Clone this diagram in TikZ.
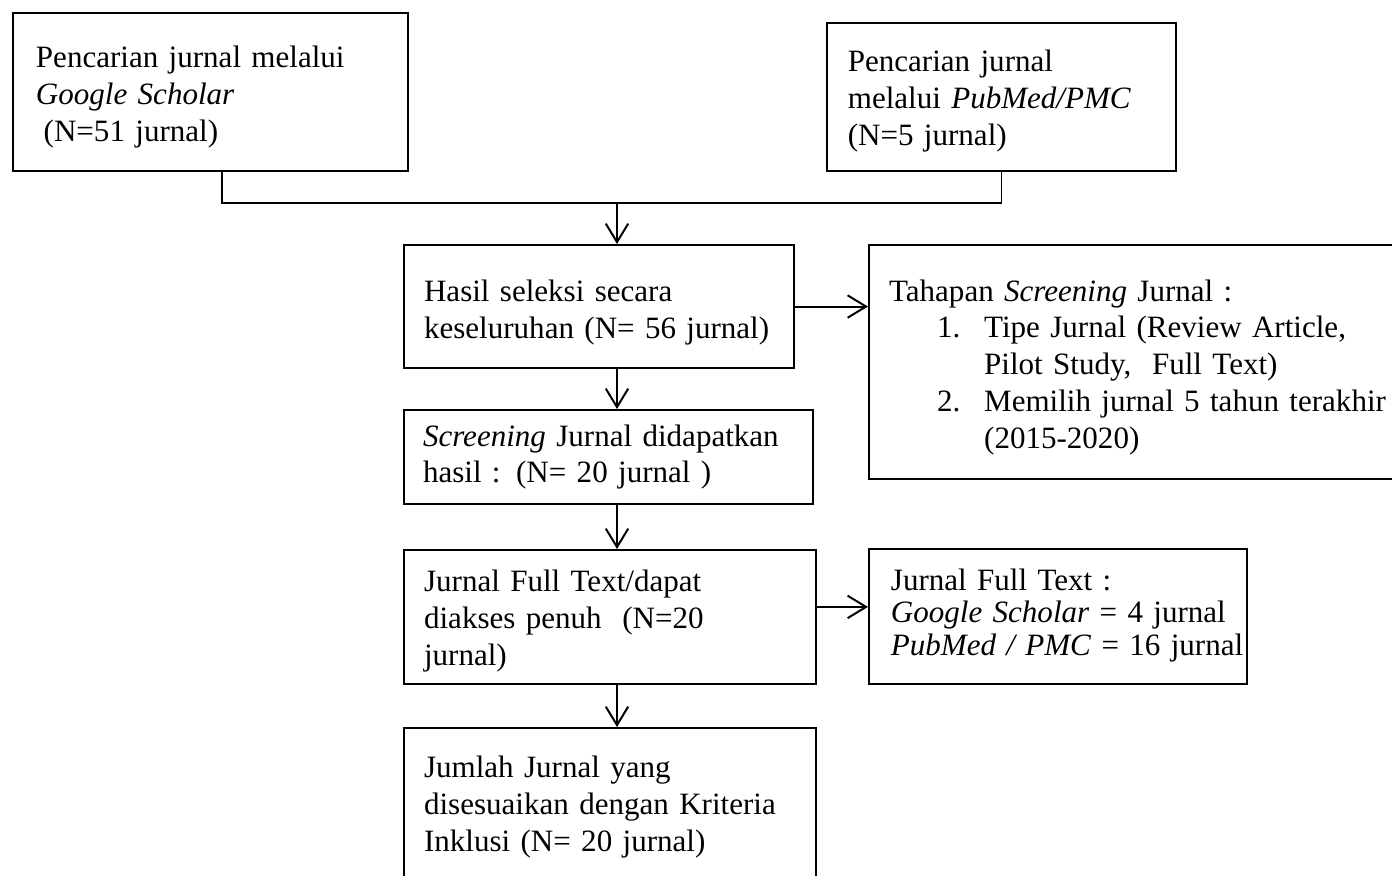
\documentclass[tikz,border=0pt]{standalone}
\usepackage{fontspec}
\setmainfont{Liberation Serif}
\usetikzlibrary{arrows.meta}
\newcommand\toppad[1]{\rule{0pt}{#1}}
\newcommand\botpad[1]{\rule[-#1]{0pt}{#1}}
\begin{document}
\begin{tikzpicture}[x=0.3785pt,y=-0.3785pt,
  line width=0.75pt,
  box/.style={draw, line width=0.75pt, rectangle, anchor=north west, align=left,
    inner ysep=0pt, font=\fontsize{11.75}{13.9}\selectfont},
  arr/.style={-{Straight Barb[length=7pt,width=8.5pt]}, line width=0.75pt}]
\useasboundingbox (0,0) rectangle (1392,876);
\clip (0,0) rectangle (1392,876);

\node[box, text width=132.1pt, inner xsep=8.7pt, minimum height=59.8pt] (gs) at (12,12)
  {\toppad{12pt}Pencarian jurnal melalui\\\textit{Google Scholar}\\\hspace*{0.25em}(N=51 jurnal)};
\node[box, text width=116.3pt, inner xsep=7.9pt, minimum height=56pt] (pm) at (826,22)
  {\toppad{11.2pt}Pencarian jurnal\\melalui \textit{PubMed/PMC}\\(N=5 jurnal)};
\node[box, text width=132.4pt, inner xsep=7.6pt, minimum height=46.6pt] (hasil) at (403,244)
  {\toppad{12.7pt}Hasil seleksi secara\\\mbox{keseluruhan (N= 56 jurnal)}};
\node[box, text width=201.3pt, inner xsep=7.6pt, minimum height=88.6pt] (tahap) at (868,244)
  {\toppad{12pt}Tahapan \textit{Screening} Jurnal :\\
   \hspace*{18.2pt}\makebox[17.8pt][l]{1.}Tipe Jurnal (Review Article,\\
   \hspace*{36pt}Pilot Study,\ \ Full Text)\\
   \hspace*{18.2pt}\makebox[17.8pt][l]{2.}\mbox{Memilih jurnal 5 tahun terakhir}\\
   \hspace*{36pt}(2015-2020)};
\node[box, text width=140.4pt, inner xsep=7.2pt, minimum height=35.6pt] (scr) at (403,409)
  {\mbox{\textit{Screening} Jurnal didapatkan}\\hasil : (N= 20 jurnal )};
\node[box, text width=140.7pt, inner xsep=7.6pt, minimum height=50.7pt] (full) at (403,549)
  {\toppad{11.2pt}Jurnal Full Text/dapat\\diakses penuh\ \ (N=20\\jurnal)};
\node[box, text width=126.5pt, inner xsep=8.3pt, minimum height=51.1pt,
  font=\fontsize{11.75}{12.2}\selectfont] (ft) at (868,548)
  {\lineskiplimit=-20pt\relax Jurnal Full Text :\\\mbox{\textit{Google Scholar} = 4 jurnal}\\\mbox{\textit{PubMed / PMC} = 16 jurnal}\botpad{3.4pt}};
\node[box, text width=140.7pt, inner xsep=7.6pt, minimum height=59.8pt] (jml) at (403,727)
  {Jumlah Jurnal yang\\\mbox{disesuaikan dengan Kriteria}\\Inklusi (N= 20 jurnal)};

\coordinate (join) at (617,203);
\draw ([xshift=4.4pt]gs.south) |- (join) -| (pm.south);
\draw[arr] (join) -- (join |- hasil.north);
\draw[arr] (hasil.east) -- (hasil.east -| tahap.west);
\draw[arr] (hasil.south -| join) -- (scr.north -| join);
\draw[arr] (scr.south -| join) -- (full.north -| join);
\draw[arr] ([yshift=3.8pt]full.east) -- ([yshift=3.8pt]full.east -| ft.west);
\draw[arr] (full.south -| join) -- (jml.north -| join);
\end{tikzpicture}
\end{document}
